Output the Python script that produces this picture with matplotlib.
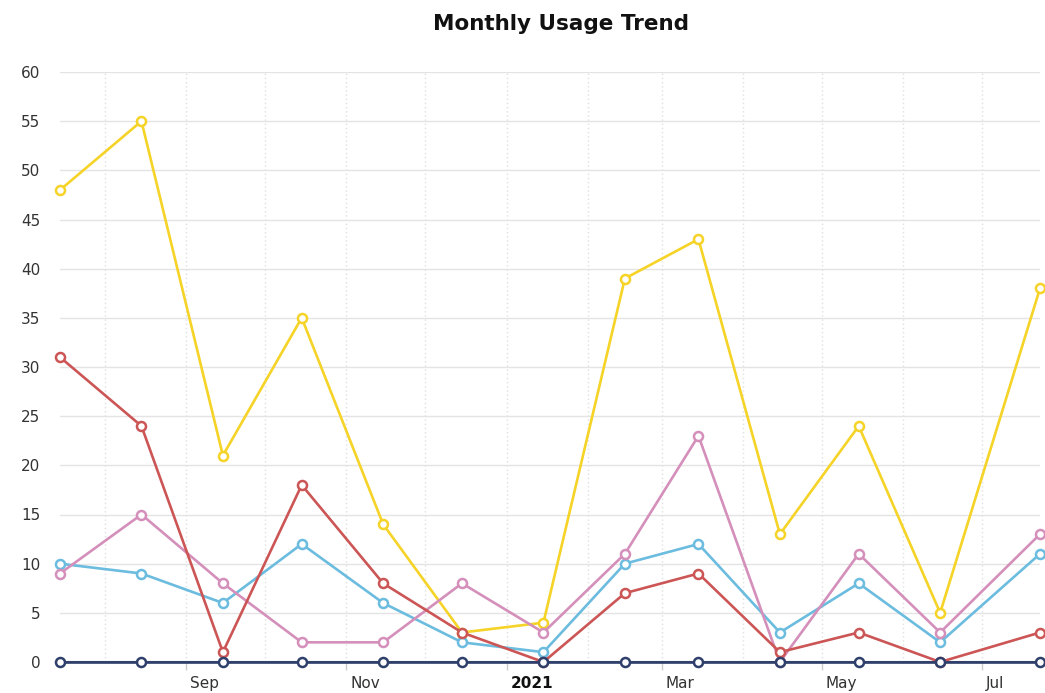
import matplotlib
matplotlib.use("Agg")
import matplotlib.pyplot as plt
import matplotlib.dates as mdates
import matplotlib.transforms as mtransforms
import pandas as pd

dates = pd.to_datetime([
    "2020-07-15", "2020-08-15", "2020-09-15", "2020-10-15", "2020-11-15",
    "2020-12-15", "2021-01-15", "2021-02-15", "2021-03-15", "2021-04-15",
    "2021-05-15", "2021-06-15", "2021-07-23",
])
series_yellow = [48, 55, 21, 35, 14, 3, 4, 39, 43, 13, 24, 5, 38]
series_red = [31, 24, 1, 18, 8, 3, 0, 7, 9, 1, 3, 0, 3]
series_pink = [9, 15, 8, 2, 2, 8, 3, 11, 23, 0, 11, 3, 13]
series_blue = [10, 9, 6, 12, 6, 2, 1, 10, 12, 3, 8, 2, 11]
series_navy = [0, 0, 0, 0, 0, 0, 0, 0, 0, 0, 0, 0, 0]
y_ticks = [0, 5, 10, 15, 20, 25, 30, 35, 40, 45, 50, 55, 60]
title = "Monthly Usage Trend"

colors = {
    "yellow": "#f5d327",
    "red": "#cc5555",
    "pink": "#d48fba",
    "blue": "#6bbcdf",
    "navy": "#2e3f6b",
}

W, H = 1045, 693
fig = plt.figure(figsize=(W / 100, H / 100), dpi=100)
ax = fig.add_axes([60 / W, (H - 662) / H, 980 / W, 590 / H])

for vals, key, z in [
    (series_yellow, "yellow", 3),
    (series_blue, "blue", 4),
    (series_pink, "pink", 5),
    (series_red, "red", 6),
    (series_navy, "navy", 7),
]:
    ax.plot(dates, vals, color=colors[key], lw=1.9, marker="o", ms=6.5,
            mfc="white", mec=colors[key], mew=1.8, zorder=z, clip_on=False)

ax.set_xlim(dates[0], dates[-1])
ax.set_ylim(0, 60)
ax.set_yticks(y_ticks)
ax.tick_params(axis="y", length=0, pad=14, labelsize=11, labelcolor="#333333")
for lab in ax.get_yticklabels():
    lab.set_ha("right")

ax.xaxis.set_major_locator(mdates.MonthLocator(bymonth=[1, 3, 5, 7, 9, 11]))
ax.xaxis.set_minor_locator(mdates.MonthLocator())

def fmt(x, pos=None):
    d = mdates.num2date(x)
    if d.month == 1:
        return str(d.year)
    return d.strftime("%b")

ax.xaxis.set_major_formatter(plt.FuncFormatter(fmt))
ax.tick_params(axis="x", which="major", length=6, width=1, color="#cccccc",
               pad=4, labelsize=11, labelcolor="#333333")
ax.tick_params(axis="x", which="minor", length=0)
offset = mtransforms.ScaledTranslation(4 / 100, 0, fig.dpi_scale_trans)
fig.canvas.draw()
for lab in ax.get_xticklabels():
    lab.set_ha("left")
    lab.set_transform(lab.get_transform() + offset)
    if lab.get_text().isdigit():
        lab.set_fontweight("bold")
        lab.set_color("#111111")

ax.grid(axis="y", color="#e4e4e4", lw=1, ls="-", zorder=0)
ax.grid(axis="x", which="both", color="#e0e0e0", lw=1, ls=(0, (1, 2)), zorder=0)
ax.set_axisbelow(True)

for s in ["top", "right", "left"]:
    ax.spines[s].set_visible(False)
ax.spines["bottom"].set_color("#4a5568")
ax.spines["bottom"].set_linewidth(1.5)

fig.text(561 / W, 1 - 24 / H, title, ha="center", va="center",
         fontsize=15.5, fontweight="bold", color="#111111")

fig.savefig("out.png", dpi=100)
